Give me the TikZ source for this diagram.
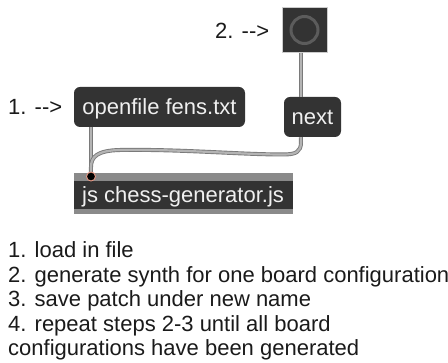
\documentclass[tikz,border=0pt]{standalone}
\usepackage{fontspec}
\setmainfont{Liberation Sans}
\definecolor{boxfill}{HTML}{333333}
\definecolor{boxtext}{HTML}{F0F0F0}
\definecolor{cableedge}{HTML}{7A7A7A}
\definecolor{cablecore}{HTML}{B4B4B4}
\definecolor{bandgray}{HTML}{8A8A8A}
\definecolor{ringgray}{HTML}{5C5C5C}
\definecolor{inletpink}{HTML}{E89A86}
\definecolor{notetext}{HTML}{1A1A1A}
\newcommand\patchfont{\fontsize{22}{24.5}\selectfont}
\begin{document}
\begin{tikzpicture}[x=1pt,y=-1pt,
  msgbox/.style={fill=boxfill, rounded corners=6pt, inner sep=0pt,
    text=boxtext, font=\patchfont, text height=16pt, text depth=0pt},
  cable/.style={draw=cableedge, line width=0.9pt, double=cablecore,
    double distance=2.2pt},
  note/.style={anchor=base west, inner sep=0pt, font=\patchfont, text=notetext},
]
\useasboundingbox (0,0) rectangle (448,363);

% bang button
\node[draw=gray!40, fill=boxfill, minimum size=45pt, inner sep=0pt] (bang) at (304.5,30) {};
\draw[ringgray, line width=3pt] (bang.center) circle (13.5);

% message boxes
\node[msgbox, minimum width=171pt, minimum height=40pt] (openfile) at (159.5,107) {openfile fens.txt};
\node[msgbox, minimum width=57pt, minimum height=40pt] (next) at (312.5,117) {next};

% js object: grey top and bottom bands around a dark body
\node[fill=bandgray, minimum width=219pt, minimum height=41pt, inner sep=0pt] (jsbox) at (183.5,193.5) {};
\fill[boxfill] (74,181) rectangle (293,209);
\node[anchor=base west, inner sep=0pt, font=\patchfont, text=boxtext] (jstext) at (82,203) {js chess-generator.js};

% step labels
\node[note] (hintone) at (8,115) {1. {-}{-}>};
\node[note] (hinttwo) at (215,39) {2. {-}{-}>};

% patch cords
\draw[cable] ([xshift=19pt]bang.south west) -- ([xshift=17pt]next.north west);
\draw[cable] ([xshift=17pt]openfile.south west) -- ([xshift=17pt]jsbox.north west);
\draw[cable] ([xshift=17pt]next.south west) -- (301,142)
  .. controls (301,152) and (296,154.5) .. (283,154.5)
  .. controls (240,154.5) and (180,149) .. (120,150)
  .. controls (97,150.5) and (91,157) .. (91,167)
  -- ([xshift=17pt]jsbox.north west);

% inlet of the js object
\node[circle, fill=black, draw=inletpink, line width=0.9pt, minimum size=9pt, inner sep=0pt] (inlet) at (91,176.5) {};

% notes
\node[note] (stepone) at (8,258) {1. load in file};
\node[note] (steptwo) at (8,282.5) {2. generate synth for one board configuration};
\node[note] (stepthree) at (8,307) {3. save patch under new name};
\node[note] (stepfour) at (8,331.5) {4. repeat steps 2-3 until all board};
\node[note] (stepfive) at (8,356) {configurations have been generated};
\end{tikzpicture}
\end{document}
